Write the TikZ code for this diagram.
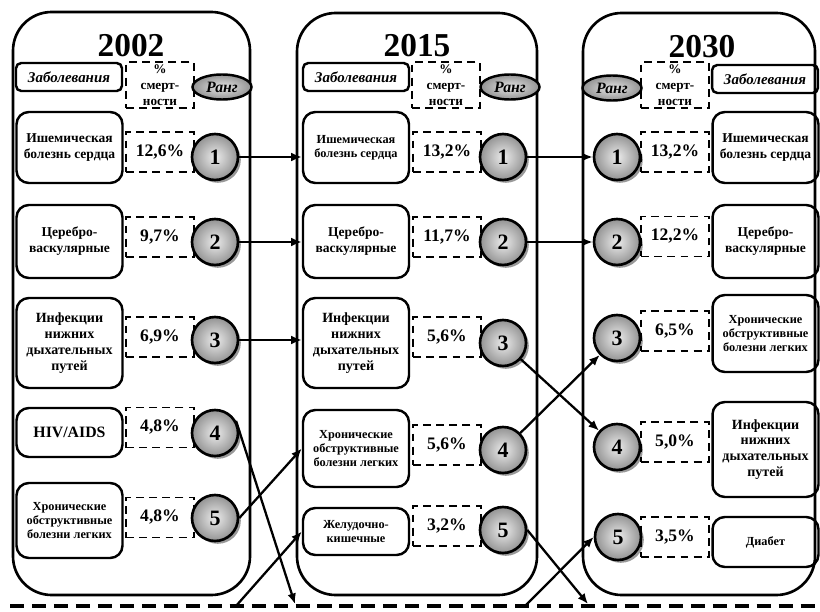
\documentclass[tikz,border=0pt]{standalone}
\usepackage{fontspec}
\setmainfont{Liberation Serif}
\usetikzlibrary{shapes.geometric, arrows.meta, shadows, positioning}

\tikzset{
  colbox/.style={draw, line width=1.5pt, rounded corners=22pt},
  yeartitle/.style={font=\bfseries\fontsize{19}{19}\selectfont, inner sep=0pt},
  headbox/.style={draw, line width=1.4pt, rounded corners=3pt, minimum width=2.12cm, minimum height=0.56cm,
    inner sep=0pt, font=\bfseries\itshape\fontsize{8.5}{9}\selectfont},
  headpct/.style={draw, dashed, dash pattern=on 4.5pt off 3pt, line width=1.1pt, minimum width=1.36cm,
    minimum height=0.92cm, inner sep=0pt, align=center, font=\bfseries\fontsize{7.5}{9}\selectfont},
  headrank/.style={ellipse, draw, line width=1.4pt, minimum width=1.18cm, minimum height=0.5cm, inner sep=0pt,
    shading=radial, inner color=gray!20, outer color=gray!85, font=\bfseries\itshape\fontsize{9}{9}\selectfont},
  disbox/.style={draw, line width=1.4pt, rounded corners=7pt, minimum width=2.12cm, inner sep=1pt,
    align=center, font=\bfseries\fontsize{7.7}{9}\selectfont},
  smalltext/.style={font=\bfseries\fontsize{7}{8.2}\selectfont},
  pctbox/.style={draw, dashed, dash pattern=on 4.5pt off 3pt, line width=1.1pt, minimum width=1.36cm,
    minimum height=0.8cm, inner sep=0pt, font=\bfseries\fontsize{10}{10}\selectfont},
  rankball/.style={circle, draw, line width=1.5pt, minimum size=0.92cm, inner sep=0pt,
    shading=radial, inner color=gray!15, outer color=gray!85,
    drop shadow={shadow xshift=1.6pt, shadow yshift=-1.6pt, fill=gray!80, opacity=1},
    font=\bfseries\fontsize{12.5}{12.5}\selectfont},
  link/.style={->, line width=1.3pt}
}

\begin{document}
\begin{tikzpicture}[x=0.02cm, y=-0.02cm, >={Latex[length=6pt,width=5pt]}]
  \useasboundingbox (0,0) rectangle (820,611);

  % three periods
  \draw[colbox] (13,12) rectangle (250,595);
  \draw[colbox] (297,13) rectangle (537,595);
  \draw[colbox] (583,13) rectangle (815,595);
  \node[yeartitle] (ya) at (131,46) {2002};
  \node[yeartitle] (yb) at (417,46) {2015};
  \node[yeartitle] (yc) at (702,47) {2030};

  % headers
  \node[headbox]  (ha) at (69,77) {Заболевания};
  \node[headpct]  (hpa) at (160,85) {\%\\смерт-\\ности};
  \node[headrank] (hra) at (222,87) {Ранг};
  \node[headbox]  (hb) at (356,77) {Заболевания};
  \node[headpct]  (hpb) at (446,85) {\%\\смерт-\\ности};
  \node[headrank] (hrb) at (510,87) {Ранг};
  \node[headrank] (hrc) at (612,88) {Ранг};
  \node[headpct]  (hpc) at (675,85) {\%\\смерт-\\ности};
  \node[headbox]  (hc) at (765,79) {Заболевания};

  % 2002
  \node[disbox, minimum height=1.42cm] (d1a) at (69.5,147.5) {Ишемическая\\болезнь сердца};
  \node[pctbox] (p1a) at (160,152) {12,6\%};
  \node[rankball] (r1a) at (215,157) {1};
  \node[disbox, minimum height=1.46cm] (d2a) at (69.5,241.5) {Церебро-\\васкулярные};
  \node[pctbox] (p2a) at (160,237) {9,7\%};
  \node[rankball] (r2a) at (215,242) {2};
  \node[disbox, minimum height=1.8cm, font=\bfseries\fontsize{8}{9}\selectfont] (d3a) at (69.5,343) {Инфекции\\нижних\\дыхательных\\путей};
  \node[pctbox] (p3a) at (160,337) {6,9\%};
  \node[rankball] (r3a) at (215,340) {3};
  \node[disbox, minimum height=0.98cm, font=\bfseries\fontsize{9}{9}\selectfont] (d4a) at (69.5,432.5) {HIV/AIDS};
  \node[pctbox] (p4a) at (160,427.5) {4,8\%};
  \node[rankball] (r4a) at (215,433) {4};
  \node[disbox, smalltext, minimum height=1.5cm] (d5a) at (69.5,520.5) {Хронические\\обструктивные\\болезни легких};
  \node[pctbox] (p5a) at (160,517.5) {4,8\%};
  \node[rankball] (r5a) at (215,518) {5};

  % 2015
  \node[disbox, smalltext, minimum height=1.42cm] (d1b) at (356,147.5) {Ишемическая\\болезнь сердца};
  \node[pctbox] (p1b) at (447,152) {13,2\%};
  \node[rankball] (r1b) at (503,157) {1};
  \node[disbox, minimum height=1.46cm] (d2b) at (356,241.5) {Церебро-\\васкулярные};
  \node[pctbox] (p2b) at (447,237) {11,7\%};
  \node[rankball] (r2b) at (503,242) {2};
  \node[disbox, minimum height=1.8cm, font=\bfseries\fontsize{8}{9}\selectfont] (d3b) at (356,343) {Инфекции\\нижних\\дыхательных\\путей};
  \node[pctbox] (p3b) at (447,337) {5,6\%};
  \node[rankball] (r3b) at (503,343) {3};
  \node[disbox, smalltext, minimum height=1.54cm] (d4b) at (356,448.5) {Хронические\\обструктивные\\болезни легких};
  \node[pctbox] (p4b) at (447,445) {5,6\%};
  \node[rankball] (r4b) at (503,450) {4};
  \node[disbox, smalltext, minimum height=0.94cm] (d5b) at (356,531.5) {Желудочно-\\кишечные};
  \node[pctbox] (p5b) at (447,526) {3,2\%};
  \node[rankball] (r5b) at (503,530) {5};

  % 2030
  \node[rankball] (r1c) at (617,157) {1};
  \node[pctbox] (p1c) at (675,152) {13,2\%};
  \node[disbox, minimum height=1.42cm] (d1c) at (765.5,147.5) {Ишемическая\\болезнь сердца};
  \node[rankball] (r2c) at (617,242) {2};
  \node[pctbox] (p2c) at (675,236.5) {12,2\%};
  \node[disbox, minimum height=1.46cm] (d2c) at (765.5,241.5) {Церебро-\\васкулярные};
  \node[rankball] (r3c) at (617,338) {3};
  \node[pctbox] (p3c) at (675,331) {6,5\%};
  \node[disbox, smalltext, minimum height=1.54cm] (d3c) at (765.5,333.5) {Хронические\\обструктивные\\болезни легких};
  \node[rankball] (r4c) at (617,447) {4};
  \node[pctbox] (p4c) at (675,442) {5,0\%};
  \node[disbox, minimum height=1.9cm, font=\bfseries\fontsize{8}{9}\selectfont] (d4c) at (765.5,449.5) {Инфекции\\нижних\\дыхательных\\путей};
  \node[rankball] (r5c) at (618,537) {5};
  \node[pctbox] (p5c) at (675,537) {3,5\%};
  \node[disbox, smalltext, minimum height=1.0cm] (d5c) at (765.5,542) {Диабет};

  % outside the ranking
  \draw[line width=2.6pt, dash pattern=on 8pt off 4.5pt] (10,606) -- (820,606);
  \coordinate (outa) at (295,604);
  \coordinate (ina) at (236,606);
  \coordinate (outb) at (588,604);
  \coordinate (inb) at (525,606);

  % shifts of rank
  \draw[link] (r1a) -- (r1a -| d1b.west);
  \draw[link] (r2a) -- (r2a -| d2b.west);
  \draw[link] (r3a) -- (r3a -| d3b.west);
  \draw[link] (r4a.30) -- (outa);
  \draw[link] (r5a.east) -- (d4b.west);
  \draw[link] (ina) -- (d5b.west);
  \draw[link] (r1b) -- (r1c);
  \draw[link] (r2b) -- (r2c);
  \draw[link] (r3b) -- (r4c);
  \draw[link] (r4b) -- (r3c);
  \draw[link] (r5b.east) -- (outb);
  \draw[link] (inb) -- (r5c.west);
\end{tikzpicture}
\end{document}
